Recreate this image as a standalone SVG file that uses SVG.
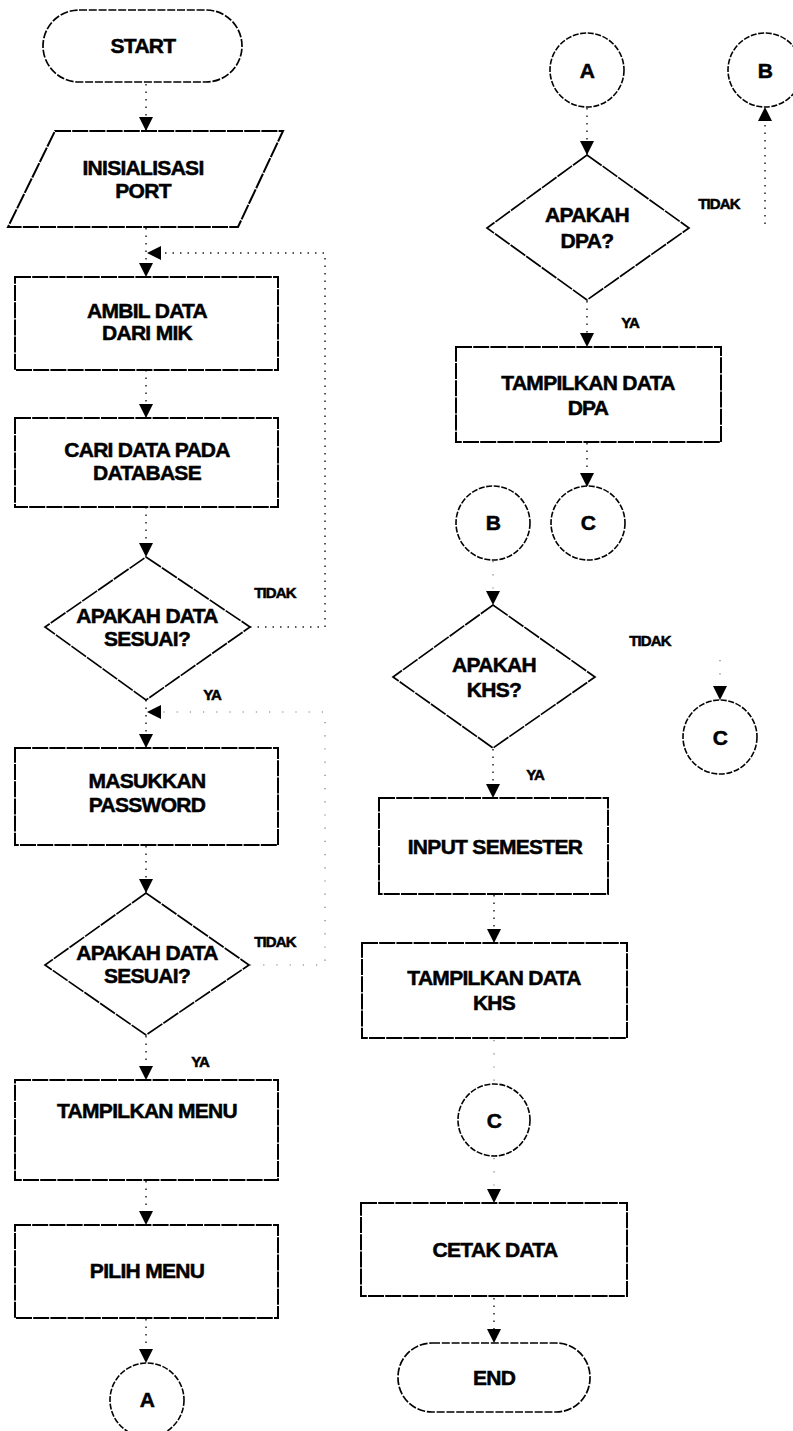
<svg xmlns="http://www.w3.org/2000/svg" width="793" height="1431" viewBox="0 0 793 1431">
  <defs>
    <marker id="arrow" markerUnits="userSpaceOnUse" markerWidth="14" markerHeight="14" refX="14" refY="7" orient="auto">
      <path d="M0,0 L14,7 L0,14 z" fill="#000"/>
    </marker>
    <style>
      .box { fill: #fff; stroke: #000; stroke-width: 2; stroke-dasharray: 16 1.2; }
      .dec { fill: #fff; stroke: #000; stroke-width: 1.7; stroke-dasharray: 18 1.2; }
      .term { fill: #fff; stroke: #000; stroke-width: 1.7; stroke-dasharray: 8 1.8; }
      .conn { fill: #fff; stroke: #000; stroke-width: 1.6; stroke-dasharray: 6 1.6; }
      .flow { fill: none; stroke: #222; stroke-width: 1.5; stroke-dasharray: 1.5 6; }
      .faint { fill: none; stroke: #777; stroke-width: 1.2; stroke-dasharray: 1.2 12; }
      text { font-family: "Liberation Sans", Arial, sans-serif; font-weight: bold; fill: #000; stroke: #000; stroke-width: 0.5; text-anchor: middle; }
      .t { font-size: 21px; letter-spacing: -0.7px; }
      .lbl { font-size: 15px; letter-spacing: -0.9px; }
    </style>
  </defs>
  <rect width="793" height="1431" fill="#fff"/>

  <!-- connectors -->
  <g id="connectors">
    <path class="flow" d="M146,84 V131" marker-end="url(#arrow)"/>
    <path class="flow" d="M146,228 V277" marker-end="url(#arrow)"/>
    <path class="flow" d="M250,627 H325 V253 H147" marker-end="url(#arrow)"/>
    <path class="flow" d="M146,370 V418" marker-end="url(#arrow)"/>
    <path class="flow" d="M146,507 V557" marker-end="url(#arrow)"/>
    <path class="flow" d="M146,700 V748" marker-end="url(#arrow)"/>
    <path class="faint" d="M250,965 H325 V712 H147" marker-end="url(#arrow)"/>
    <path class="flow" d="M146,846 V893" marker-end="url(#arrow)"/>
    <path class="flow" d="M146,1036 V1080" marker-end="url(#arrow)"/>
    <path class="flow" d="M146,1181 V1225" marker-end="url(#arrow)"/>
    <path class="flow" d="M146,1319 V1363" marker-end="url(#arrow)"/>

    <path class="flow" d="M587,108 V155" marker-end="url(#arrow)"/>
    <path class="flow" d="M765,224 V107" marker-end="url(#arrow)"/>
    <path class="flow" d="M587,301 V347" marker-end="url(#arrow)"/>
    <path class="flow" d="M587,443 V487" marker-end="url(#arrow)"/>
    <path class="faint" d="M493,561 V605" marker-end="url(#arrow)"/>
    <path class="faint" d="M720,660 V700" marker-end="url(#arrow)"/>
    <path class="flow" d="M493,749 V798" marker-end="url(#arrow)"/>
    <path class="flow" d="M494,895 V943" marker-end="url(#arrow)"/>
    <path class="faint" d="M494,1040 V1084"/>
    <path class="faint" d="M494,1158 V1203" marker-end="url(#arrow)"/>
    <path class="flow" d="M494,1298 V1343" marker-end="url(#arrow)"/>
  </g>

  <!-- left column -->
  <g id="start">
    <rect class="term" x="43" y="10" width="199" height="72" rx="36" ry="36"/>
    <text class="t" x="143" y="53">START</text>
  </g>
  <g id="init-port">
    <polygon class="box" points="55,131 283,131 238,227 8,227"/>
    <text class="t" x="143" y="175">INISIALISASI</text>
    <text class="t" x="143" y="198">PORT</text>
  </g>
  <g id="ambil-data">
    <rect class="box" x="15" y="277" width="263" height="93"/>
    <text class="t" x="147" y="318">AMBIL DATA</text>
    <text class="t" x="147" y="340">DARI MIK</text>
  </g>
  <g id="cari-data">
    <rect class="box" x="15" y="418" width="263" height="89"/>
    <text class="t" x="147" y="457">CARI DATA PADA</text>
    <text class="t" x="147" y="480">DATABASE</text>
  </g>
  <g id="cek-data-1">
    <polygon class="dec" points="146,557 250,627 146,700 45,627"/>
    <text class="t" x="147" y="623">APAKAH DATA</text>
    <text class="t" x="147" y="646">SESUAI?</text>
    <text class="lbl" x="275" y="598">TIDAK</text>
    <text class="lbl" x="212" y="700">YA</text>
  </g>
  <g id="masukkan-password">
    <rect class="box" x="15" y="748" width="263" height="97"/>
    <text class="t" x="147" y="788">MASUKKAN</text>
    <text class="t" x="147" y="812">PASSWORD</text>
  </g>
  <g id="cek-data-2">
    <polygon class="dec" points="146,893 249,965 146,1035 45,965"/>
    <text class="t" x="147" y="960">APAKAH DATA</text>
    <text class="t" x="147" y="983">SESUAI?</text>
    <text class="lbl" x="275" y="947">TIDAK</text>
    <text class="lbl" x="200" y="1067">YA</text>
  </g>
  <g id="tampilkan-menu">
    <rect class="box" x="15" y="1080" width="263" height="100"/>
    <text class="t" x="147" y="1118">TAMPILKAN MENU</text>
  </g>
  <g id="pilih-menu">
    <rect class="box" x="15" y="1225" width="263" height="93"/>
    <text class="t" x="147" y="1278">PILIH MENU</text>
  </g>
  <g id="conn-a-out">
    <circle class="conn" cx="147" cy="1400" r="37"/>
    <text class="t" x="147" y="1407">A</text>
  </g>

  <!-- right column -->
  <g id="conn-a-in">
    <circle class="conn" cx="587" cy="70" r="37"/>
    <text class="t" x="587" y="78">A</text>
  </g>
  <g id="conn-b-out">
    <circle class="conn" cx="765" cy="70" r="37"/>
    <text class="t" x="765" y="78">B</text>
  </g>
  <g id="cek-dpa">
    <polygon class="dec" points="587,155 689,228 587,300 487,228"/>
    <text class="t" x="587" y="222">APAKAH</text>
    <text class="t" x="587" y="248">DPA?</text>
    <text class="lbl" x="719" y="209">TIDAK</text>
    <text class="lbl" x="630" y="328">YA</text>
  </g>
  <g id="tampilkan-dpa">
    <rect class="box" x="456" y="347" width="265" height="95"/>
    <text class="t" x="588" y="390">TAMPILKAN DATA</text>
    <text class="t" x="588" y="415">DPA</text>
  </g>
  <g id="conn-b-in">
    <circle class="conn" cx="493" cy="523" r="37"/>
    <text class="t" x="493" y="530">B</text>
  </g>
  <g id="conn-c-dpa">
    <circle class="conn" cx="588" cy="523" r="37"/>
    <text class="t" x="588" y="530">C</text>
  </g>
  <g id="cek-khs">
    <polygon class="dec" points="493,605 595,677 493,748 393,677"/>
    <text class="t" x="494" y="672">APAKAH</text>
    <text class="t" x="494" y="697">KHS?</text>
    <text class="lbl" x="650" y="646">TIDAK</text>
    <text class="lbl" x="535" y="780">YA</text>
  </g>
  <g id="conn-c-khs">
    <circle class="conn" cx="720" cy="737" r="37"/>
    <text class="t" x="720" y="745">C</text>
  </g>
  <g id="input-semester">
    <rect class="box" x="379" y="798" width="229" height="96"/>
    <text class="t" x="495" y="854">INPUT SEMESTER</text>
  </g>
  <g id="tampilkan-khs">
    <rect class="box" x="362" y="943" width="265" height="95"/>
    <text class="t" x="494" y="985">TAMPILKAN DATA</text>
    <text class="t" x="494" y="1010">KHS</text>
  </g>
  <g id="conn-c-in">
    <circle class="conn" cx="494" cy="1120" r="36"/>
    <text class="t" x="494" y="1128">C</text>
  </g>
  <g id="cetak-data">
    <rect class="box" x="361" y="1203" width="266" height="93"/>
    <text class="t" x="495" y="1257">CETAK DATA</text>
  </g>
  <g id="end">
    <rect class="term" x="398" y="1343" width="192" height="69" rx="34" ry="34"/>
    <text class="t" x="494" y="1385">END</text>
  </g>
</svg>
